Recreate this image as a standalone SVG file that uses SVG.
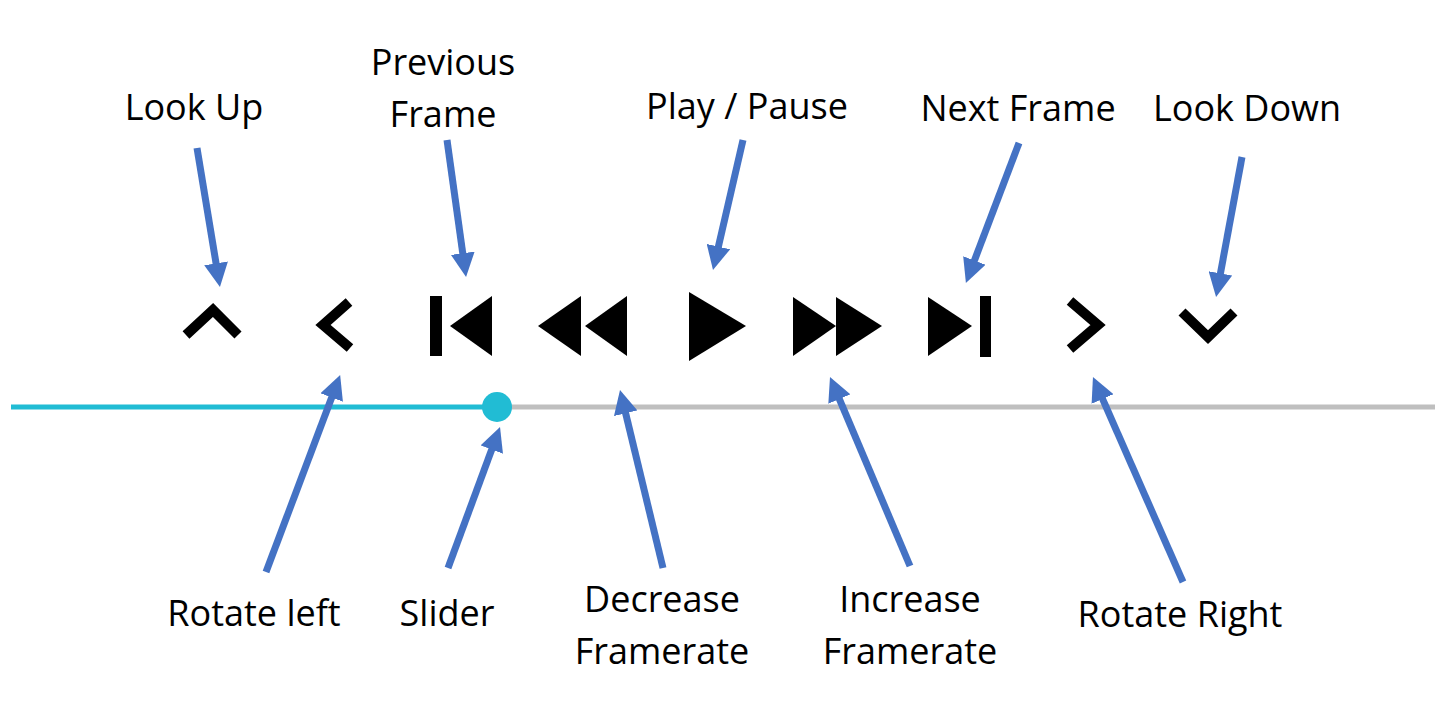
<svg xmlns="http://www.w3.org/2000/svg" width="1444" height="722" viewBox="0 0 1444 722">
<style>
text{font-family:"Open Sans","Noto Sans",sans-serif;font-size:36px;fill:#000;text-anchor:middle}
.arr{stroke:#4472C4;stroke-width:7;fill:none;marker-end:url(#ah)}
.chev{stroke:#000;stroke-width:10;fill:none;stroke-linejoin:miter}
.ico{fill:#000}
</style>
<defs>
<marker id="ah" viewBox="0 0 24 24" markerWidth="24" markerHeight="24" markerUnits="userSpaceOnUse" refX="4" refY="12" orient="auto">
<path d="M0,0 L24,12 L0,24 z" fill="#4472C4"/>
</marker>
</defs>
<rect width="1444" height="722" fill="#fff"/>
<g id="slider">
<line x1="497" y1="407" x2="1435" y2="407" stroke="#BFBFBF" stroke-width="5"/>
<line x1="11" y1="407" x2="497" y2="407" stroke="#21BCD4" stroke-width="5"/>
<circle cx="497" cy="407" r="15" fill="#21BCD4"/>
</g>
<g id="look-up-icon"><polyline class="chev" points="186,335 213,310 238,335"/></g>
<g id="rotate-left-icon"><polyline class="chev" points="349,302 323,325 350,348"/></g>
<g id="prev-frame-icon"><rect class="ico" x="430" y="296" width="12" height="60"/><polygon class="ico" points="450,326 492,296 492,356"/></g>
<g id="rewind-icon"><polygon class="ico" points="538,326 581,296 581,356"/><polygon class="ico" points="585,326 627,296 627,356"/></g>
<g id="play-icon"><polygon class="ico" points="689,292 746,326 689,361"/></g>
<g id="ff-icon"><polygon class="ico" points="793,297 836,326 793,356"/><polygon class="ico" points="836,297 882,326 836,356"/></g>
<g id="next-frame-icon"><polygon class="ico" points="928,297 972,326 928,356"/><rect class="ico" x="980" y="296" width="11" height="61"/></g>
<g id="rotate-right-icon"><polyline class="chev" points="1070,301 1098,325 1070,349"/></g>
<g id="look-down-icon"><polyline class="chev" points="1182,312 1208,337 1234,312"/></g>
<g id="connectors">
<line class="arr" x1="197" y1="148" x2="216.7" y2="267.3"/>
<line class="arr" x1="447" y1="140" x2="463.3" y2="257.2"/>
<line class="arr" x1="743" y1="140" x2="717.5" y2="250.5"/>
<line class="arr" x1="1019" y1="143" x2="973" y2="264.2"/>
<line class="arr" x1="1242" y1="157" x2="1219.7" y2="277.3"/>
<line class="arr" x1="266" y1="572" x2="333.1" y2="393.8"/>
<line class="arr" x1="448" y1="568" x2="493.1" y2="445.8"/>
<line class="arr" x1="663" y1="568" x2="624.7" y2="409.4"/>
<line class="arr" x1="910" y1="566" x2="837.8" y2="395.4"/>
<line class="arr" x1="1183" y1="582" x2="1101" y2="395.3"/>
</g>
<g id="label-look-up"><text x="194" y="120">Look Up</text></g>
<g id="label-prev-frame"><text x="443" y="75">Previous</text><text x="443" y="127">Frame</text></g>
<g id="label-play"><text x="747" y="119">Play / Pause</text></g>
<g id="label-next-frame"><text x="1018" y="121">Next Frame</text></g>
<g id="label-look-down"><text x="1247" y="121">Look Down</text></g>
<g id="label-rotate-left"><text x="254" y="626">Rotate left</text></g>
<g id="label-slider"><text x="447" y="626">Slider</text></g>
<g id="label-decrease"><text x="662" y="612">Decrease</text><text x="662" y="664">Framerate</text></g>
<g id="label-increase"><text x="910" y="612">Increase</text><text x="910" y="664">Framerate</text></g>
<g id="label-rotate-right"><text x="1180" y="627">Rotate Right</text></g>
</svg>
